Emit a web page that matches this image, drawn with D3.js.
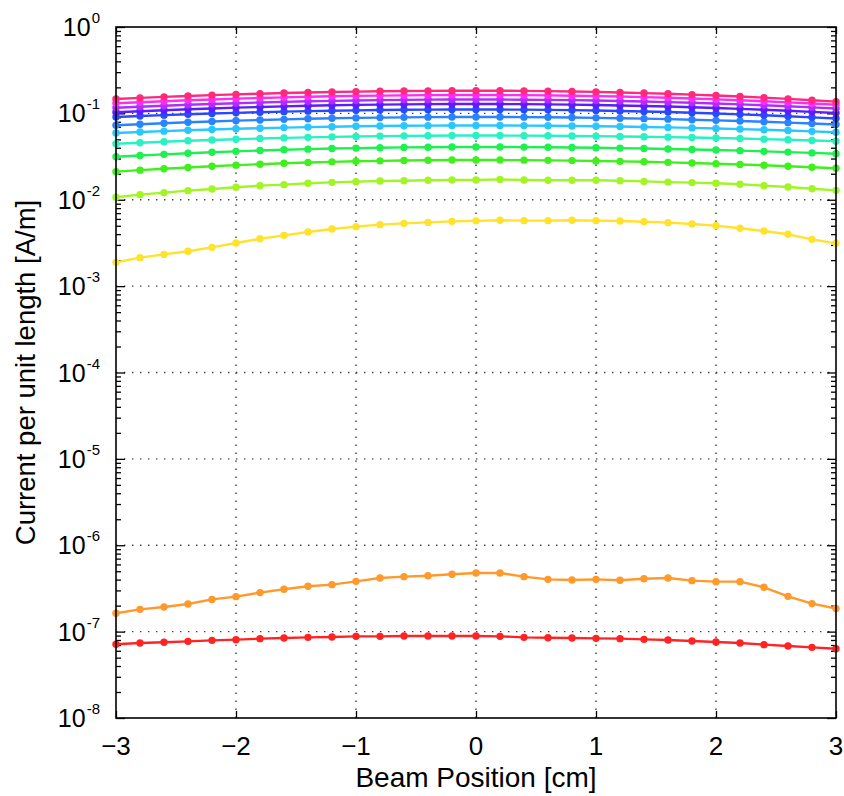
<!DOCTYPE html>
<html lang="en">
<head>
  <meta charset="UTF-8">
  <title>Current per unit length</title>
  <style>
    body { margin: 0; background: #fff; }
    svg { display: block; font-family: "Liberation Sans", Arial, Helvetica, sans-serif; }
  </style>
</head>
<body>
  <div id="chart"></div>
  <script src="https://d3js.org/d3.v7.min.js"></script>
  <script>
    // beam positions [cm], one marker every 0.2 cm
    var positions = [-3, -2.8, -2.6, -2.4, -2.2, -2, -1.8, -1.6, -1.4, -1.2, -1, -0.8, -0.6, -0.4, -0.2,
      0, 0.2, 0.4, 0.6, 0.8, 1, 1.2, 1.4, 1.6, 1.8, 2, 2.2, 2.4, 2.6, 2.8, 3];

    var xTicks = [-3, -2, -1, 0, 1, 2, 3];
    var yExponents = [0, -1, -2, -3, -4, -5, -6, -7, -8];

    // current per unit length [A/m]
    var red = [7.13e-8, 7.38e-8, 7.52e-8, 7.72e-8, 7.93e-8, 8.07e-8, 8.29e-8, 8.44e-8, 8.59e-8, 8.67e-8, 8.82e-8,
      8.82e-8, 8.90e-8, 8.90e-8, 8.90e-8, 8.90e-8, 8.82e-8, 8.59e-8, 8.51e-8, 8.44e-8, 8.36e-8, 8.29e-8, 8.14e-8,
      8.00e-8, 7.79e-8, 7.59e-8, 7.38e-8, 7.07e-8, 6.82e-8, 6.58e-8, 6.34e-8];
    var orange = [1.63e-7, 1.81e-7, 1.93e-7, 2.09e-7, 2.36e-7, 2.54e-7, 2.83e-7, 3.09e-7, 3.35e-7, 3.50e-7, 3.82e-7,
      4.18e-7, 4.33e-7, 4.44e-7, 4.61e-7, 4.77e-7, 4.77e-7, 4.33e-7, 4.03e-7, 3.96e-7, 4.03e-7, 3.93e-7, 4.10e-7,
      4.18e-7, 3.89e-7, 3.79e-7, 3.79e-7, 3.26e-7, 2.56e-7, 2.11e-7, 1.85e-7];
    var yellow = [1.886e-3, 2.135e-3, 2.33e-3, 2.53e-3, 2.81e-3, 3.16e-3, 3.54e-3, 3.87e-3, 4.23e-3, 4.58e-3, 4.88e-3,
      5.15e-3, 5.33e-3, 5.47e-3, 5.62e-3, 5.70e-3, 5.78e-3, 5.73e-3, 5.73e-3, 5.78e-3, 5.73e-3, 5.67e-3, 5.57e-3,
      5.43e-3, 5.24e-3, 5.01e-3, 4.67e-3, 4.35e-3, 3.98e-3, 3.48e-3, 3.13e-3];
    var yellowGreen = [0.01067, 0.01145, 0.01208, 0.01274, 0.01332, 0.01393, 0.01456, 0.01495, 0.0155, 0.0159, 0.0162,
      0.0165, 0.0166, 0.0168, 0.0169, 0.0169, 0.0172, 0.0169, 0.0168, 0.0168, 0.0168, 0.0166, 0.0163,
      0.0160, 0.0158, 0.0155, 0.0151, 0.01456, 0.01406, 0.01343, 0.01285];
    var green = [0.02116, 0.02202, 0.02286, 0.02366, 0.02442, 0.02514, 0.0258, 0.02642, 0.02697, 0.02745, 0.02787,
      0.02822, 0.0285, 0.02869, 0.02881, 0.02885, 0.02882, 0.02874, 0.0286, 0.0284, 0.02815, 0.02785, 0.0275,
      0.0271, 0.02665, 0.02616, 0.02563, 0.02506, 0.02446, 0.02382, 0.02315];
    var springGreen = [0.03146, 0.03253, 0.03356, 0.03455, 0.03548, 0.03635, 0.03715, 0.03789, 0.03855, 0.03914, 0.03964,
      0.04005, 0.04038, 0.04061, 0.04076, 0.0408, 0.04077, 0.04067, 0.04051, 0.04028, 0.03999, 0.03964, 0.03923,
      0.03876, 0.03824, 0.03766, 0.03703, 0.03636, 0.03564, 0.03488, 0.03408];
    var turquoise = [0.04446, 0.04574, 0.04696, 0.04813, 0.04922, 0.05024, 0.05118, 0.05204, 0.05281, 0.05348, 0.05406,
      0.05454, 0.05491, 0.05518, 0.05534, 0.0554, 0.05536, 0.05525, 0.05507, 0.05481, 0.05449, 0.05409, 0.05362,
      0.05308, 0.05249, 0.05183, 0.05111, 0.05033, 0.04949, 0.04861, 0.04768];
    var sky = [0.05927, 0.06082, 0.0623, 0.0637, 0.06502, 0.06625, 0.06737, 0.0684, 0.06932, 0.07012, 0.07081,
      0.07138, 0.07182, 0.07214, 0.07233, 0.0724, 0.07234, 0.07217, 0.07188, 0.07148, 0.07097, 0.07034, 0.06962,
      0.06879, 0.06786, 0.06683, 0.06572, 0.06452, 0.06324, 0.0619, 0.06048];
    var azure = [0.07287, 0.07496, 0.07697, 0.07888, 0.08067, 0.08234, 0.08389, 0.08529, 0.08655, 0.08766, 0.08861,
      0.08939, 0.09, 0.09045, 0.09071, 0.0908, 0.09072, 0.09047, 0.09007, 0.08952, 0.0888, 0.08794, 0.08693,
      0.08578, 0.08449, 0.08308, 0.08154, 0.07989, 0.07813, 0.07628, 0.07434];
    var blue = [0.09079, 0.09317, 0.09543, 0.09757, 0.09959, 0.10147, 0.10319, 0.10477, 0.10618, 0.10741, 0.10846,
      0.10934, 0.11001, 0.1105, 0.1108, 0.1109, 0.11078, 0.11042, 0.10983, 0.10903, 0.10798, 0.10672, 0.10526,
      0.10358, 0.10172, 0.09968, 0.09747, 0.09511, 0.0926, 0.08997, 0.08723];
    var indigo = [0.10304, 0.10601, 0.10884, 0.11154, 0.11407, 0.11643, 0.11863, 0.12061, 0.12239, 0.12396, 0.12531,
      0.12641, 0.12727, 0.1279, 0.12827, 0.1284, 0.12826, 0.12785, 0.12717, 0.12623, 0.12503, 0.12356, 0.12186,
      0.11993, 0.11777, 0.11541, 0.11285, 0.11012, 0.10721, 0.10417, 0.101];
    var purple = [0.11612, 0.11946, 0.12266, 0.1257, 0.12855, 0.13121, 0.13369, 0.13592, 0.13793, 0.13969, 0.14121,
      0.14246, 0.14343, 0.14414, 0.14456, 0.1447, 0.14454, 0.14408, 0.14331, 0.14225, 0.14089, 0.13925, 0.13733,
      0.13515, 0.13272, 0.13006, 0.12718, 0.12409, 0.12082, 0.1174, 0.11382];
    var magenta = [0.13097, 0.13474, 0.13834, 0.14177, 0.14499, 0.14799, 0.15078, 0.15329, 0.15556, 0.15755, 0.15927,
      0.16067, 0.16176, 0.16256, 0.16304, 0.1632, 0.16302, 0.16245, 0.16152, 0.16021, 0.15855, 0.15656, 0.15421,
      0.15156, 0.14861, 0.1454, 0.1419, 0.13818, 0.13425, 0.13012, 0.12584];
    var pink = [0.14686, 0.15108, 0.15513, 0.15897, 0.16258, 0.16594, 0.16907, 0.17189, 0.17444, 0.17667, 0.17859,
      0.18016, 0.18139, 0.18229, 0.18282, 0.183, 0.18276, 0.18207, 0.1809, 0.17927, 0.1772, 0.17471, 0.1718,
      0.16851, 0.16486, 0.16088, 0.15657, 0.152, 0.14719, 0.14215, 0.13694];

    var series = [
      { values: red, color: "#ff2424" },
      { values: orange, color: "#ff992c" },
      { values: yellow, color: "#ffe22c" },
      { values: yellowGreen, color: "#a2f524" },
      { values: green, color: "#40f01c" },
      { values: springGreen, color: "#1ef050" },
      { values: turquoise, color: "#28f2c2" },
      { values: sky, color: "#2ac6ff" },
      { values: azure, color: "#2a84ff" },
      { values: blue, color: "#2a48ff" },
      { values: indigo, color: "#5c1cff" },
      { values: purple, color: "#b02cff" },
      { values: magenta, color: "#ff2cf6" },
      { values: pink, color: "#ff2a7c" }
    ];

    var svg = d3.select("#chart").append("svg")
      .attr("width", 844)
      .attr("height", 796);

    var plotLeft = 116, plotRight = 836, plotTop = 27, plotBottom = 718;

    var x = d3.scaleLinear().domain([-3, 3]).range([plotLeft, plotRight]);
    var y = d3.scaleLog().domain([1e-8, 1]).range([plotBottom, plotTop]);

    var yMajor = yExponents.map(function (e) { return Math.pow(10, e); });
    var yMinor = [];
    yExponents.slice(1).forEach(function (e) {
      for (var m = 2; m <= 9; m++) yMinor.push(m * Math.pow(10, e));
    });

    // dotted grid
    var grid = svg.append("g")
      .attr("stroke", "#444")
      .attr("stroke-width", 1.4)
      .attr("stroke-dasharray", "1.4,6.6");
    grid.selectAll(".gx")
      .data(xTicks.slice(1, -1))
      .enter().append("line")
      .attr("x1", function (d) { return x(d); })
      .attr("x2", function (d) { return x(d); })
      .attr("y1", plotBottom)
      .attr("y2", plotTop);
    grid.selectAll(".gy")
      .data(yMajor.slice(1, -1))
      .enter().append("line")
      .attr("x1", plotLeft)
      .attr("x2", plotRight)
      .attr("y1", function (d) { return y(d); })
      .attr("y2", function (d) { return y(d); });

    // inward ticks on all four sides
    function ticks(axis, transform) {
      var g = svg.append("g").attr("transform", transform).call(axis);
      g.select(".domain").remove();
      g.selectAll("line").attr("stroke", "#000").attr("stroke-width", 1.3);
      g.selectAll("text").remove();
    }
    ticks(d3.axisLeft(y).tickValues(yMajor).tickSize(-9), "translate(" + plotLeft + ",0)");
    ticks(d3.axisLeft(y).tickValues(yMinor).tickSize(-5), "translate(" + plotLeft + ",0)");
    ticks(d3.axisRight(y).tickValues(yMajor).tickSize(-9), "translate(" + plotRight + ",0)");
    ticks(d3.axisRight(y).tickValues(yMinor).tickSize(-5), "translate(" + plotRight + ",0)");
    ticks(d3.axisBottom(x).tickValues(xTicks).tickSize(-7), "translate(0," + plotBottom + ")");
    ticks(d3.axisTop(x).tickValues(xTicks).tickSize(-7), "translate(0," + plotTop + ")");

    // data lines and markers
    var line = d3.line()
      .x(function (d, i) { return x(positions[i]); })
      .y(function (d) { return y(d); });

    var layers = svg.append("g").selectAll("g")
      .data(series)
      .enter().append("g");

    layers.append("path")
      .attr("d", function (s) { return line(s.values); })
      .attr("fill", "none")
      .attr("stroke", function (s) { return s.color; })
      .attr("stroke-width", 2.4)
      .attr("stroke-linejoin", "round");

    layers.selectAll("circle")
      .data(function (s) { return s.values.map(function (v, i) { return { x: positions[i], v: v, c: s.color }; }); })
      .enter().append("circle")
      .attr("cx", function (d) { return x(d.x); })
      .attr("cy", function (d) { return y(d.v); })
      .attr("r", 3.7)
      .attr("fill", function (d) { return d.c; });

    // frame
    svg.append("rect")
      .attr("x", plotLeft)
      .attr("y", plotTop)
      .attr("width", plotRight - plotLeft)
      .attr("height", plotBottom - plotTop)
      .attr("fill", "none")
      .attr("stroke", "#000")
      .attr("stroke-width", 1.6);

    // tick labels
    svg.append("g").selectAll("text")
      .data(xTicks)
      .enter().append("text")
      .attr("x", function (d) { return x(d); })
      .attr("y", plotBottom + 37)
      .attr("text-anchor", "middle")
      .style("font-size", "26px")
      .text(function (d) { return d < 0 ? "\u2212" + Math.abs(d) : d; });

    var yl = svg.append("g").selectAll("text")
      .data(yExponents)
      .enter().append("text")
      .attr("x", 100)
      .attr("y", function (e) { return y(Math.pow(10, e)) + 9; })
      .attr("text-anchor", "end")
      .style("font-size", "25px");
    yl.append("tspan").text("10");
    yl.append("tspan")
      .attr("dy", -13)
      .attr("dx", 1)
      .style("font-size", "15px")
      .text(function (e) { return e; });

    // axis titles
    svg.append("text")
      .attr("x", (plotLeft + plotRight) / 2)
      .attr("y", 787)
      .attr("text-anchor", "middle")
      .style("font-size", "28px")
      .text("Beam Position [cm]");

    svg.append("text")
      .attr("text-anchor", "middle")
      .attr("transform", "translate(35," + (plotTop + plotBottom) / 2 + ")rotate(-90)")
      .style("font-size", "27.5px")
      .text("Current per unit length [A/m]");
  </script>
</body>
</html>
